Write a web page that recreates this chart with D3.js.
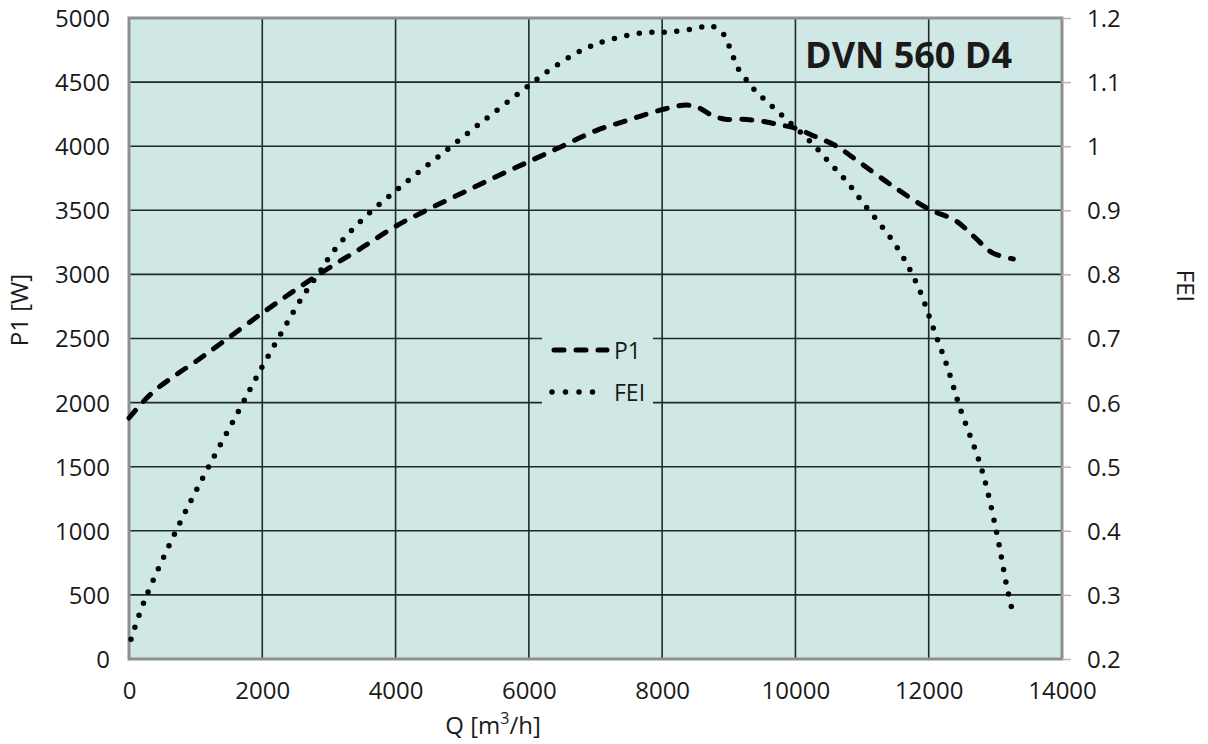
<!DOCTYPE html>
<html><head><meta charset="utf-8">
<script src="https://cdn.jsdelivr.net/npm/d3@7"></script>
<style>body{margin:0;background:#fff}svg{display:block}text{font-family:"Open Sans",sans-serif;fill:#1a1a1a}</style>
</head><body>
<svg id="c" width="1208" height="744"></svg>
<script>
const title = "DVN 560 D4";
const xTicks = [0,2000,4000,6000,8000,10000,12000,14000];
const yTicks = [0,500,1000,1500,2000,2500,3000,3500,4000,4500,5000];
const y2Ticks = [0.2,0.3,0.4,0.5,0.6,0.7,0.8,0.9,1,1.1,1.2];
const y2Labels = ["0.2","0.3","0.4","0.5","0.6","0.7","0.8","0.9","1","1.1","1.2"];
const p1Q = [0,200,400,700,1000,1400,2000,2500,3000,3500,4000,4500,5000,5500,6000,6500,7000,7500,8000,8370,8550,8750,8950,9200,9500,9750,10000,10300,10600,11000,11500,12000,12400,12700,12950,13270];
const p1W = [1880,2000,2100,2215,2320,2470,2699,2880,3050,3210,3375,3510,3635,3760,3880,4000,4120,4205,4285,4321,4300,4240,4210,4210,4195,4168,4140,4075,4005,3860,3675,3510,3420,3285,3170,3120];
const feiQ = [30,225,720,1170,1635,1920,2310,2610,2850,3060,3465,4065,4695,5310,5955,6270,6780,7140,7725,8115,8520,8715,8895,8985,9060,9135,9255,9375,9660,9960,10245,10515,10785,11025,11280,11520,11715,11880,12015,12150,12285,12465,12795,13020,13170,13260];
const feiV = [0.231,0.289,0.403,0.495,0.585,0.641,0.713,0.766,0.802,0.835,0.882,0.936,0.988,1.039,1.091,1.116,1.149,1.164,1.177,1.178,1.184,1.188,1.178,1.161,1.141,1.122,1.105,1.089,1.061,1.033,1.005,0.974,0.943,0.910,0.877,0.843,0.808,0.771,0.732,0.693,0.654,0.593,0.496,0.397,0.314,0.273];

const L=129,R=1062,T=18,B=659;
const svg=d3.select("#c");
const x=d3.scaleLinear().domain([0,14000]).range([L,R]);
const y=d3.scaleLinear().domain([0,5000]).range([B,T]);
const y2=d3.scaleLinear().domain([0.2,1.2]).range([B,T]);

svg.append("rect").attr("x",L).attr("y",T).attr("width",R-L).attr("height",B-T).attr("fill","#d0e8e5");
// grid
const g=svg.append("g").attr("stroke","#1e2a28").attr("stroke-width",1.6);
g.selectAll(".v").data(xTicks.slice(1,-1)).join("line").attr("x1",d=>x(d)).attr("x2",d=>x(d)).attr("y1",T).attr("y2",B);
g.selectAll(".h").data(yTicks.slice(1,-1)).join("line").attr("y1",d=>y(d)).attr("y2",d=>y(d)).attr("x1",L).attr("x2",R);
// frame
svg.append("rect").attr("x",L).attr("y",T).attr("width",R-L).attr("height",B-T).attr("fill","none").attr("stroke","#8f8f8f").attr("stroke-width",3);

// axes
const ax=svg.append("g").attr("transform",`translate(0,${B})`).call(d3.axisBottom(x).tickValues(xTicks).tickSize(0).tickPadding(23).tickFormat(d3.format("d")));
const ay=svg.append("g").attr("transform",`translate(${L},0)`).call(d3.axisLeft(y).tickValues(yTicks).tickSize(0).tickPadding(19).tickFormat(d3.format("d")));
const ay2=svg.append("g").attr("transform",`translate(${R},0)`).call(d3.axisRight(y2).tickValues(y2Ticks).tickSize(9).tickPadding(16).tickFormat((d,i)=>y2Labels[i]));
[ax,ay,ay2].forEach(a=>{a.select(".domain").remove();a.selectAll("text").style("font-size","24px").style("font-family","'Open Sans',sans-serif").attr("fill","#1a1a1a");});
ay2.selectAll("line").attr("stroke","#b8b8b8").attr("stroke-width",1.5);
ay.selectAll("text").attr("dy","0.35em");
ay2.selectAll("text").attr("dy","0.35em");

// axis titles
svg.append("text").attr("transform","translate(28,310) rotate(-90)").attr("text-anchor","middle").style("font-size","24px").text("P1 [W]");
svg.append("text").attr("transform","translate(1177,286) rotate(90)").attr("text-anchor","middle").style("font-size","24px").text("FEI");
const xt=svg.append("text").attr("x",493).attr("y",734).attr("text-anchor","middle").style("font-size","24px");
xt.append("tspan").text("Q [m");
xt.append("tspan").attr("dy",-10).style("font-size","16px").text("3");
xt.append("tspan").attr("dy",10).text("/h]");

// lines
const lineP=d3.line().x(d=>x(d[0])).y(d=>y(d[1])).curve(d3.curveCatmullRom);
const lineF=d3.line().x(d=>x(d[0])).y(d=>y2(d[1])).curve(d3.curveCatmullRom);
svg.append("path").datum(d3.zip(p1Q,p1W)).attr("d",lineP).attr("fill","none").attr("stroke","#000").attr("stroke-width",5).attr("stroke-linecap","round").attr("stroke-dasharray","10 12");
svg.append("path").datum(d3.zip(feiQ,feiV)).attr("d",lineF).attr("fill","none").attr("stroke","#000").attr("stroke-width",5.5).attr("stroke-linecap","round").attr("stroke-dasharray","0 12.6");

// legend
svg.append("rect").attr("x",542).attr("y",328).attr("width",111).attr("height",84).attr("fill","#d0e8e5");
svg.append("line").attr("x1",554).attr("x2",607).attr("y1",350).attr("y2",350).attr("stroke","#000").attr("stroke-width",5).attr("stroke-linecap","round").attr("stroke-dasharray","10 12");
svg.append("line").attr("x1",552).attr("x2",606).attr("y1",392).attr("y2",392).attr("stroke","#000").attr("stroke-width",5.5).attr("stroke-linecap","round").attr("stroke-dasharray","0 13.5");
svg.append("text").attr("x",614).attr("y",359).style("font-size","23px").text("P1");
svg.append("text").attr("x",614).attr("y",401).style("font-size","23px").text("FEI");

// title
svg.append("text").attr("x",1012).attr("y",68).attr("text-anchor","end").style("font-size","36px").style("font-weight","bold").attr("fill","#111").text(title);
</script>
</body></html>
